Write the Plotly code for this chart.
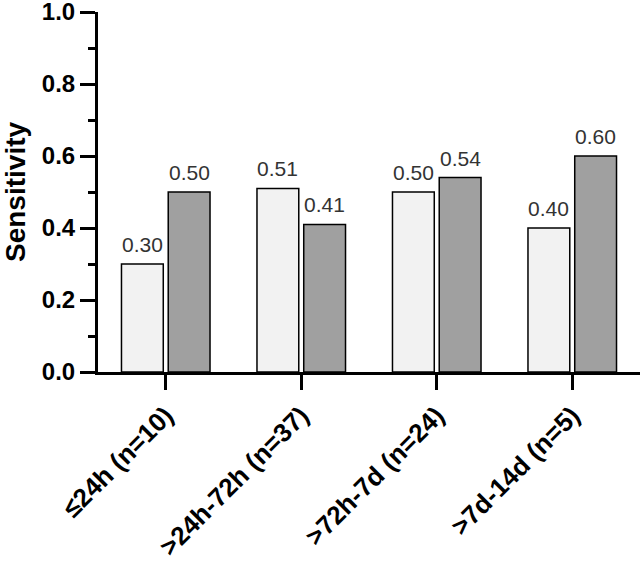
import plotly.graph_objects as go

categories = ["≤24h (n=10)", ">24h-72h (n=37)", ">72h-7d (n=24)", ">7d-14d (n=5)"]
series_a = [0.30, 0.51, 0.50, 0.40]
series_b = [0.50, 0.41, 0.54, 0.60]
y_ticks = [0.0, 0.2, 0.4, 0.6, 0.8, 1.0]
y_ticktext = ["0.0", "0.2", "0.4", "0.6", "0.8", "1.0"]
y_title = "Sensitivity"

FONT = "Arial, Liberation Sans, Helvetica, sans-serif"

fig = go.Figure()
fig.add_trace(go.Bar(x=categories, y=series_a, name="A",
                     marker=dict(color="#f2f2f2", line=dict(color="black", width=1.5))))
fig.add_trace(go.Bar(x=categories, y=series_b, name="B",
                     marker=dict(color="#a0a0a0", line=dict(color="black", width=1.5))))

for i, c in enumerate(categories):
    for vals, shift in ((series_a, -23.5), (series_b, 23.5)):
        fig.add_annotation(x=c, y=vals[i], text=f"{vals[i]:.2f}", showarrow=False,
                           xshift=shift, yshift=6, yanchor="bottom", xanchor="center",
                           font=dict(family=FONT, size=21, color="#333333"))

# y-axis title as a rotated annotation for precise placement
fig.add_annotation(xref="paper", yref="paper", x=0, y=0.5, text=y_title, showarrow=False,
                   textangle=-90, xanchor="center", yanchor="middle", xshift=-83,
                   font=dict(family=FONT, size=28, color="black", weight="bold"))

fig.update_layout(
    width=644, height=565,
    margin=dict(l=98, r=4, t=12, b=193),
    plot_bgcolor="white", paper_bgcolor="white",
    showlegend=False,
    barmode="group", bargap=0.31, bargroupgap=0.106,
    font=dict(family=FONT, color="black"),
)
fig.update_xaxes(
    range=[-0.5, 3.5], showline=True, linecolor="black", linewidth=3,
    ticks="outside", ticklen=15, tickwidth=3, tickcolor="black",
    tickangle=-45, tickfont=dict(family=FONT, size=26, color="black", weight="bold"),
    showgrid=False, zeroline=False, automargin=False, ticklabeloverflow="allow",
)
fig.update_yaxes(
    range=[0, 1.0], showline=True, linecolor="black", linewidth=3,
    tickvals=y_ticks, ticktext=y_ticktext,
    ticks="outside", ticklen=15, tickwidth=3, tickcolor="black",
    minor=dict(dtick=0.1, ticks="outside", ticklen=7, tickwidth=3, tickcolor="black", showgrid=False),
    tickfont=dict(family=FONT, size=24, color="black", weight="bold"),
    showgrid=False, zeroline=False, automargin=False, ticklabeloverflow="allow",
)

fig.write_html("out.html", config={"displayModeBar": False},
               post_script="document.body.style.margin='0';document.body.style.overflow='hidden';")
